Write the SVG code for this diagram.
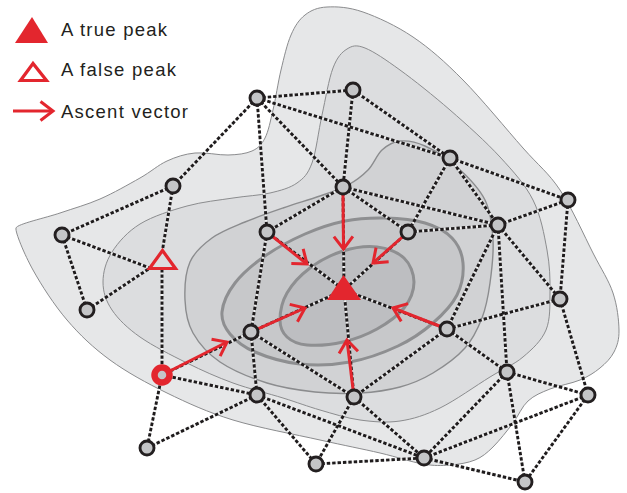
<svg xmlns="http://www.w3.org/2000/svg" xmlns:xlink="http://www.w3.org/1999/xlink" width="627" height="493" viewBox="0 0 627 493">
<style>
.c1{fill:#e6e7e8;stroke:#8b8c8e;stroke-width:1}
.c2{fill:#dcdddf;stroke:#8b8c8e;stroke-width:1}
.c3{fill:#d1d2d4;stroke:#8b8c8e;stroke-width:1.4}
.c4{fill:#c7c8ca;stroke:#8e8f91;stroke-width:3}
.c5{fill:#bdbec1;stroke:#8e8f91;stroke-width:3}
.dash{stroke:#1e1b1c;stroke-width:2.9;stroke-dasharray:3.4 2;fill:none}
.under{stroke:#f2f2f2;stroke-width:1.8;fill:none}
.arrow{stroke:#e3262e;stroke-width:3;fill:none;marker-end:url(#ah)}
.node circle{fill:#c4c5c7;stroke:#231f20;stroke-width:2.9}
.start circle{fill:#c4c5c7;stroke:#e3262e;stroke-width:6.5}
.tp{fill:#e3262e}
.fp{fill:none;stroke:#e3262e;stroke-width:3.2}
.lbl{font-family:"Liberation Sans",Arial,Helvetica,sans-serif;font-size:18.5px;fill:#231f20}
</style>
<defs>
<marker id="ah" markerUnits="userSpaceOnUse" markerWidth="30" markerHeight="30" viewBox="-15 -15 30 30" refX="0" refY="0" orient="auto" overflow="visible">
<path d="M-12.5,-9.5 L0,0 L-12.5,9.5" fill="none" stroke="#e3262e" stroke-width="3"/>
</marker>
</defs>

<g id="contours">
<path class="c1" d="M16,228 C17,224 46,217.8 60,213 S86.7,204.8 100,199 S128.8,184.3 140,178 S157.8,165.2 167,161 S184.8,154 195,153 S218.5,155.3 228,155 S245.8,153.8 252,151 S261.5,144.8 265,138 S270.3,121.3 273,110 S278,82.5 281,70 S287,44.2 291,35 S299,19.7 305,15 S317.3,7.5 327,7 S348.7,7 363,12 S396.3,25.7 413,37 S444.7,61.5 463,80 S506.8,129.7 523,148 S548.3,172.5 560,190 S584.2,235.8 593,253 S608.7,280.2 613,293 S618.8,320.2 619,330 S617.2,345.7 614,352 S605.7,363.3 600,368 S588.3,376.5 580,380 S558.7,385.5 550,389 S534.2,395.3 528,401 S518.8,415.3 513,423 S499.3,440.8 493,447 S482.2,457 475,460 S458.7,464.3 450,465 S434.7,466 423,464 S397.2,457 380,453 S344.5,445.5 320,440 S258.5,427.8 233,420 S187.5,403 167,393 S126.7,372.2 110,360 S79.8,335 67,320 S41.5,285.3 33,270 S15,232 16,228 Z"/>
<path class="c2" d="M103,282 C103,272.3 105.8,261.7 112,252 S127.5,231.7 140,224 S171.5,210.3 187,206 S219.2,200.2 233,198 S259.3,195.5 270,193 S290,188 297,183 S307.8,174.3 312,163 S318.5,130.8 322,115 S328.8,79 333,68 S341.7,52.3 347,49 S356.2,44.5 365,48 S385.8,59.7 400,70 S433.3,95.5 450,110 S486.2,142 500,157 S525.2,184.5 533,200 S544.2,234.7 547,250 S550.2,278.7 550,292 S550.5,319.2 546,330 S532.3,349.2 523,357 S503.8,368.5 490,377 S455,400.7 440,408 S413.3,419 400,421 S373.3,421.8 360,420 S332.8,413.7 320,410 S297.5,402.5 283,398 S249,388.8 233,383 S202.5,370.7 187,363 S152.5,345.8 140,337 S118.2,319.2 112,310 S103,291.7 103,282 Z"/>
<path class="c3" d="M185,300 C184.5,288.2 185.5,272.3 190,262 S202.8,244.7 212,238 S233.2,227 245,222 S270.5,212.3 283,208 S309.2,199.8 320,196 S340,189.3 348,185 S362.3,175.8 368,170 S376.7,154.8 382,150 S392.8,141.7 400,141 S415.5,141.7 425,146 S447,158 457,167 S479,187.8 485,200 S492.2,226.2 493,240 S491.8,270 490,283 S486.2,307.2 482,318 S473.2,338.8 465,348 S443.8,366.5 433,373 S412.2,383.7 400,387 S374.2,392.2 360,393 S330.5,393.7 315,392 S282.8,388 267,383 S232.3,370.3 220,362 S198.8,343.3 193,333 S185.5,311.8 185,300 Z"/>
<path class="c4" d="M222,312 C222.8,303.5 227.8,292.3 235,283 S253.3,264.2 265,256 S291.7,239.8 305,234 S331.7,223.7 345,221 S371.7,217.7 385,218 S413.8,219.7 425,223 S445.7,231.3 452,238 S462.2,253.5 463,263 S462,285 457,295 S442.8,314.5 433,323 S411.8,339.5 398,346 S366.3,359 350,362 S315.8,365.7 300,364 S266.7,357 255,352 S235.5,340.7 230,334 S221.2,320.5 222,312 Z"/>
<path class="c5" d="M280,320 C280,312.7 282,301.7 287,293 S300.7,275 310,268 S331.8,254.5 343,251 S366.8,245.8 377,247 S397.8,252.2 404,258 S414,273.7 414,282 S410.2,300.2 404,308 S387.2,323.3 377,329 S354.7,339.3 343,342 S316.3,345.8 307,345 S291.5,341.2 287,337 S280,327.3 280,320 Z"/>
</g>

<use xlink:href="#edgelines" href="#edgelines" class="under"/>
<g id="connectors" class="dash">
<g id="edgelines">
<line x1="257" y1="98" x2="353" y2="90"/>
<line x1="257" y1="98" x2="450" y2="158"/>
<line x1="257" y1="98" x2="173" y2="186"/>
<line x1="257" y1="98" x2="343" y2="187"/>
<line x1="257" y1="98" x2="267" y2="232"/>
<line x1="353" y1="90" x2="450" y2="158"/>
<line x1="353" y1="90" x2="343" y2="187"/>
<line x1="450" y1="158" x2="408" y2="232"/>
<line x1="450" y1="158" x2="498" y2="225"/>
<line x1="450" y1="158" x2="568" y2="200"/>
<line x1="173" y1="186" x2="62" y2="235"/>
<line x1="173" y1="186" x2="162.5" y2="250"/>
<line x1="343" y1="187" x2="267" y2="232"/>
<line x1="343" y1="187" x2="408" y2="232"/>
<line x1="343" y1="187" x2="498" y2="225"/>
<line x1="343" y1="187" x2="344" y2="290"/>
<line x1="267" y1="232" x2="251" y2="332"/>
<line x1="267" y1="232" x2="344" y2="290"/>
<line x1="408" y1="232" x2="498" y2="225"/>
<line x1="408" y1="232" x2="344" y2="290"/>
<line x1="498" y1="225" x2="568" y2="200"/>
<line x1="498" y1="225" x2="560" y2="299"/>
<line x1="498" y1="225" x2="447" y2="329"/>
<line x1="498" y1="225" x2="507" y2="372"/>
<line x1="568" y1="200" x2="560" y2="299"/>
<line x1="62" y1="235" x2="87" y2="310"/>
<line x1="62" y1="235" x2="150" y2="268"/>
<line x1="87" y1="310" x2="150" y2="268"/>
<line x1="162" y1="269" x2="162" y2="375"/>
<line x1="560" y1="299" x2="447" y2="329"/>
<line x1="560" y1="299" x2="588" y2="395"/>
<line x1="447" y1="329" x2="507" y2="372"/>
<line x1="447" y1="329" x2="354" y2="397"/>
<line x1="447" y1="329" x2="344" y2="290"/>
<line x1="251" y1="332" x2="257" y2="395"/>
<line x1="251" y1="332" x2="354" y2="397"/>
<line x1="251" y1="332" x2="344" y2="290"/>
<line x1="251" y1="332" x2="162" y2="375"/>
<line x1="507" y1="372" x2="588" y2="395"/>
<line x1="507" y1="372" x2="424" y2="458"/>
<line x1="507" y1="372" x2="525" y2="482"/>
<line x1="162" y1="375" x2="257" y2="395"/>
<line x1="162" y1="375" x2="147" y2="448"/>
<line x1="257" y1="395" x2="147" y2="448"/>
<line x1="257" y1="395" x2="316" y2="464"/>
<line x1="257" y1="395" x2="424" y2="458"/>
<line x1="354" y1="397" x2="316" y2="464"/>
<line x1="354" y1="397" x2="424" y2="458"/>
<line x1="354" y1="397" x2="344" y2="290"/>
<line x1="588" y1="395" x2="424" y2="458"/>
<line x1="588" y1="395" x2="525" y2="482"/>
<line x1="316" y1="464" x2="424" y2="458"/>
<line x1="424" y1="458" x2="525" y2="482"/>
</g>
</g>

<g id="ascent-vectors" class="arrow">
<line x1="343" y1="194" x2="343.5" y2="249"/>
<line x1="408" y1="232" x2="373" y2="263"/>
<line x1="267" y1="232" x2="307" y2="264"/>
<line x1="251" y1="332" x2="305" y2="308"/>
<line x1="447" y1="329" x2="393" y2="308"/>
<line x1="354" y1="397" x2="347" y2="340"/>
<line x1="162" y1="375" x2="227" y2="342"/>
</g>

<g id="n1" class="node"><circle cx="257" cy="98" r="7"/></g>
<g id="n2" class="node"><circle cx="353" cy="90" r="7"/></g>
<g id="n3" class="node"><circle cx="450" cy="158" r="7"/></g>
<g id="n4" class="node"><circle cx="173" cy="186" r="7"/></g>
<g id="n5" class="node"><circle cx="343" cy="187" r="7"/></g>
<g id="n6" class="node"><circle cx="267" cy="232" r="7"/></g>
<g id="n7" class="node"><circle cx="408" cy="232" r="7"/></g>
<g id="n8" class="node"><circle cx="498" cy="225" r="7"/></g>
<g id="n9" class="node"><circle cx="568" cy="200" r="7"/></g>
<g id="n10" class="node"><circle cx="62" cy="235" r="7"/></g>
<g id="n11" class="node"><circle cx="87" cy="310" r="7"/></g>
<g id="n12" class="node"><circle cx="560" cy="299" r="7"/></g>
<g id="n13" class="node"><circle cx="447" cy="329" r="7"/></g>
<g id="n14" class="node"><circle cx="251" cy="332" r="7"/></g>
<g id="n15" class="node"><circle cx="507" cy="372" r="7"/></g>
<g id="n16" class="start"><circle cx="162" cy="375" r="7.5"/></g>
<g id="n17" class="node"><circle cx="257" cy="395" r="7"/></g>
<g id="n18" class="node"><circle cx="354" cy="397" r="7"/></g>
<g id="n19" class="node"><circle cx="588" cy="395" r="7"/></g>
<g id="n20" class="node"><circle cx="147" cy="448" r="7"/></g>
<g id="n21" class="node"><circle cx="316" cy="464" r="7"/></g>
<g id="n22" class="node"><circle cx="424" cy="458" r="7"/></g>
<g id="n23" class="node"><circle cx="525" cy="482" r="7"/></g>
<g id="false-peak"><polygon class="fp" points="162.5,250.5 149.5,268.5 175.5,268.5"/></g>
<g id="true-peak"><polygon class="tp" points="343.5,275 327,300 361,300"/></g>

<g id="legend">
<polygon class="tp" points="32,17 15,43 48,43"/>
<text class="lbl" x="61" y="36" textLength="106" lengthAdjust="spacing">A true peak</text>
<polygon class="fp" points="33,63.5 20.5,80.5 46.5,80.5"/>
<text class="lbl" x="61" y="76" textLength="115" lengthAdjust="spacing">A false peak</text>
<line class="arrow" x1="13" y1="111" x2="53" y2="111"/>
<text class="lbl" x="61" y="118" textLength="127" lengthAdjust="spacing">Ascent vector</text>
</g>
</svg>
